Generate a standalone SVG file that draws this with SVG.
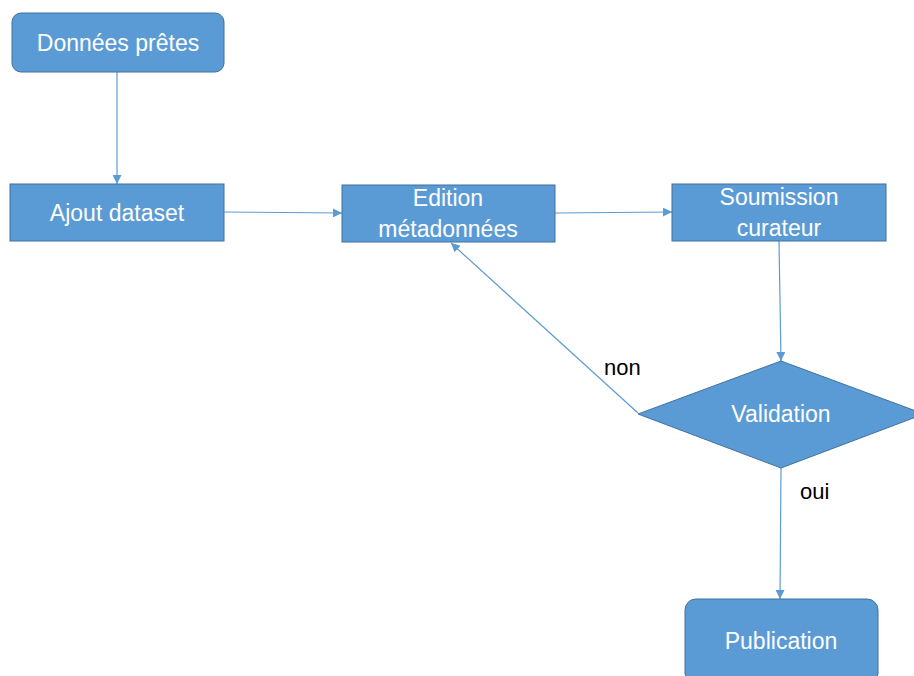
<svg xmlns="http://www.w3.org/2000/svg" width="914" height="676" viewBox="0 0 914 676">
<style>
.box{fill:#5B9BD5;stroke:#41719C;stroke-width:1}
.t{font-family:"Liberation Sans",Arial,sans-serif;font-size:23px;fill:#ffffff;text-anchor:middle}
.lbl{font-family:"Liberation Sans",Arial,sans-serif;font-size:22px;fill:#000000}
.c{stroke:#5B9BD5;stroke-width:1.2;fill:none;marker-end:url(#ah)}
</style>
<defs>
<marker id="ah" viewBox="0 0 10 10" refX="10" refY="5" markerWidth="9" markerHeight="9" markerUnits="userSpaceOnUse" orient="auto">
<path d="M0,0 L10,5 L0,10 z" fill="#5B9BD5"/>
</marker>
</defs>
<rect width="914" height="676" fill="#ffffff"/>
<g id="connectors">
<line class="c" x1="117" y1="72" x2="117" y2="184"/>
<line class="c" x1="224" y1="212" x2="342" y2="213"/>
<line class="c" x1="555" y1="213" x2="672" y2="212"/>
<line class="c" x1="779" y1="241" x2="781" y2="361"/>
<line class="c" x1="781" y1="468" x2="780" y2="599"/>
<line class="c" x1="638" y1="413" x2="451" y2="243"/>
<text class="lbl" x="604" y="375">non</text>
<text class="lbl" x="800" y="499">oui</text>
</g>
<g id="donnees">
<rect class="box" x="12" y="13" width="212" height="59" rx="9"/>
<text class="t" x="118" y="51">Données prêtes</text>
</g>
<g id="ajout">
<rect class="box" x="10" y="184" width="214" height="57"/>
<text class="t" x="117" y="221">Ajout dataset</text>
</g>
<g id="edition">
<rect class="box" x="342" y="185" width="213" height="57"/>
<text class="t" x="448" y="206">Edition</text>
<text class="t" x="448" y="237">métadonnées</text>
</g>
<g id="soumission">
<rect class="box" x="672" y="184" width="214" height="57"/>
<text class="t" x="779" y="205">Soumission</text>
<text class="t" x="779" y="236">curateur</text>
</g>
<g id="validation">
<polygon class="box" points="781,361 924,414 781,468 638,414"/>
<text class="t" x="781" y="422">Validation</text>
</g>
<g id="publication">
<rect class="box" x="685" y="599" width="193" height="85" rx="11"/>
<text class="t" x="781" y="649">Publication</text>
</g>
</svg>
